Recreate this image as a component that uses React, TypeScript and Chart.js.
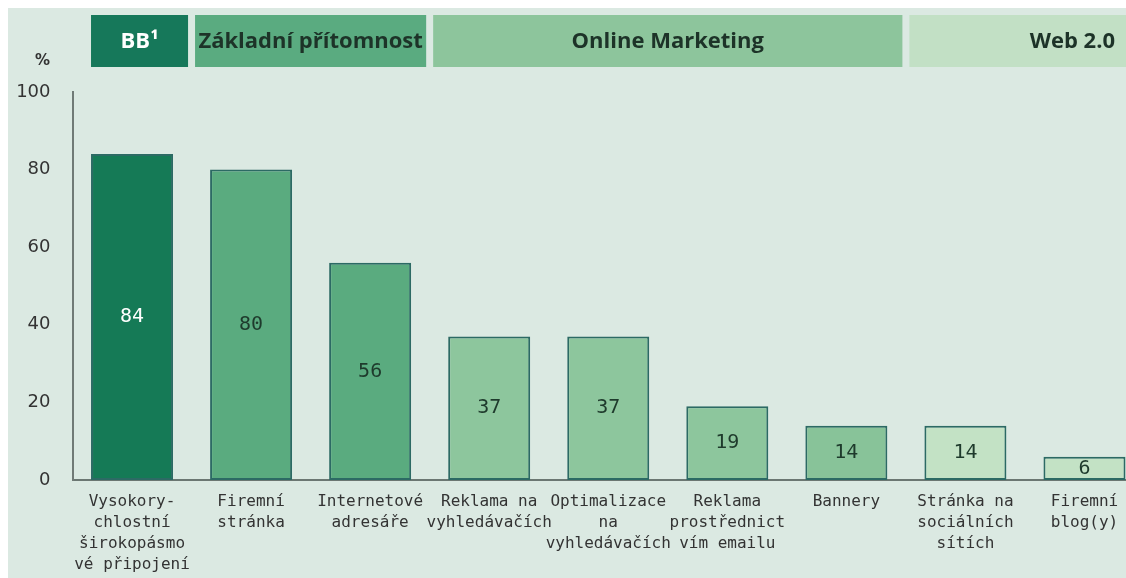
import React, { useEffect, useRef } from "react";
import { Chart, registerables } from "chart.js";

Chart.register(...registerables);

const categories: string[][] = [
  ["Vysokory-", "chlostní", "širokopásmo", "vé připojení"],
  ["Firemní", "stránka"],
  ["Internetové", "adresáře"],
  ["Reklama na", "vyhledávačích"],
  ["Optimalizace", "na", "vyhledávačích"],
  ["Reklama", "prostřednict", "vím emailu"],
  ["Bannery"],
  ["Stránka na", "sociálních", "sítích"],
  ["Firemní", "blog(y)"],
];
const values: number[] = [84, 80, 56, 37, 37, 19, 14, 14, 6];
const barColors: string[] = [
  "#157a56", "#5aab7f", "#5aab7f", "#8dc69d", "#8dc69d", "#8dc69d", "#88c399", "#c3e2c5", "#c3e2c5",
];
const valueLabelColors: string[] = [
  "#ffffff", "#1e3a2c", "#1e3a2c", "#1e3a2c", "#1e3a2c", "#1e3a2c", "#1e3a2c", "#1e3a2c", "#1e3a2c",
];
const yTicks: number[] = [0, 20, 40, 60, 80, 100];

const groupLabels: string[] = ["BB¹", "Základní přítomnost", "Online Marketing", "Web 2.0"];
const groupStart: number[] = [0, 1, 3, 7];
const groupEnd: number[] = [0, 2, 6, 8];
const groupColors: string[] = ["#16785a", "#5aab80", "#8dc59c", "#c2e0c5"];
const groupTextColors: string[] = ["#ffffff", "#1d3328", "#1d3328", "#1d3328"];

const VISIBLE_W = 1118;
const CANVAS_W = 1136;
const CANVAS_H = 570;
const BG = "#dbe9e2";

const headerPlugin = {
  id: "headerBands",
  afterDraw(chart: any) {
    const ctx = chart.ctx;
    const xs = chart.scales.x;
    const meta = chart.getDatasetMeta(0);
    const barW = meta.data[0].width;
    const half = (xs.getPixelForValue(1) - xs.getPixelForValue(0)) / 2;
    const top = 7;
    const h = 52;
    ctx.save();
    for (let g = 0; g < groupLabels.length; g++) {
      const left =
        g === 0 ? xs.getPixelForValue(groupStart[g]) - barW / 2 : xs.getPixelForValue(groupStart[g]) - half + 3.5;
      const right = g === groupLabels.length - 1 ? chart.width : xs.getPixelForValue(groupEnd[g]) + half - 3.5;
      ctx.fillStyle = groupColors[g];
      ctx.fillRect(left, top, right - left, h);
      ctx.fillStyle = groupTextColors[g];
      ctx.font = "700 22px 'Open Sans'";
      ctx.textBaseline = "middle";
      if (g === groupLabels.length - 1) {
        ctx.textAlign = "right";
        ctx.fillText(groupLabels[g], VISIBLE_W - 11, top + h / 2 + 1);
      } else {
        ctx.textAlign = "center";
        ctx.fillText(groupLabels[g], (left + right) / 2, top + h / 2 + 1);
      }
    }
    // unit label
    ctx.fillStyle = "#333333";
    ctx.font = "700 15px 'DejaVu Sans'";
    ctx.textAlign = "right";
    ctx.textBaseline = "middle";
    ctx.fillText("%", 42, 53);
    ctx.restore();
  },
};

const valueLabelPlugin = {
  id: "valueLabels",
  afterDatasetsDraw(chart: any) {
    const ctx = chart.ctx;
    const meta = chart.getDatasetMeta(0);
    ctx.save();
    ctx.font = "20px 'DejaVu Sans Mono'";
    ctx.textAlign = "center";
    ctx.textBaseline = "middle";
    meta.data.forEach((el: any, i: number) => {
      ctx.fillStyle = valueLabelColors[i];
      ctx.fillText(String(values[i]), el.x, (el.y + el.base) / 2);
    });
    ctx.restore();
  },
};

export default function App() {
  const ref = useRef<HTMLCanvasElement | null>(null);
  useEffect(() => {
    if (!ref.current) return;
    const chart = new Chart(ref.current, {
      type: "bar",
      data: {
        labels: categories,
        datasets: [
          {
            data: values,
            backgroundColor: barColors,
            borderColor: "#2c6a64",
            borderWidth: 2,
            borderSkipped: false,
            barPercentage: 0.83,
            categoryPercentage: 0.83,
          },
        ],
      },
      options: {
        animation: false,
        responsive: false,
        maintainAspectRatio: false,
        layout: { padding: { top: 84, left: 0, right: 0, bottom: 0 } },
        plugins: {
          legend: { display: false },
          tooltip: { enabled: false },
          title: { display: false },
        },
        scales: {
          x: {
            type: "category",
            grid: { display: false, drawTicks: false },
            border: { display: true, color: "#6b7772", width: 2 },
            afterFit(scale: any) {
              scale.height = 98;
            },
            ticks: {
              autoSkip: false,
              maxRotation: 0,
              minRotation: 0,
              padding: 11,
              color: "#333333",
              font: { family: "'DejaVu Sans Mono'", size: 16, lineHeight: 1.31 },
            },
          },
          y: {
            min: 0,
            max: 100,
            grid: { display: false, drawTicks: false },
            border: { display: true, color: "#707a76", width: 2 },
            afterFit(scale: any) {
              scale.width = 64.5;
            },
            afterBuildTicks(scale: any) {
              scale.ticks = yTicks.map((v) => ({ value: v }));
            },
            ticks: {
              padding: 22,
              color: "#333333",
              font: { family: "'DejaVu Sans'", size: 18 },
            },
          },
        },
      },
      plugins: [headerPlugin, valueLabelPlugin],
    });
    return () => chart.destroy();
  }, []);
  return (
    <div
      style={{
        position: "absolute",
        left: 8,
        top: 8,
        width: VISIBLE_W,
        height: CANVAS_H,
        overflow: "hidden",
        background: BG,
      }}
    >
      <canvas ref={ref} width={CANVAS_W} height={CANVAS_H} style={{ width: CANVAS_W, height: CANVAS_H, display: "block" }} />
    </div>
  );
}
